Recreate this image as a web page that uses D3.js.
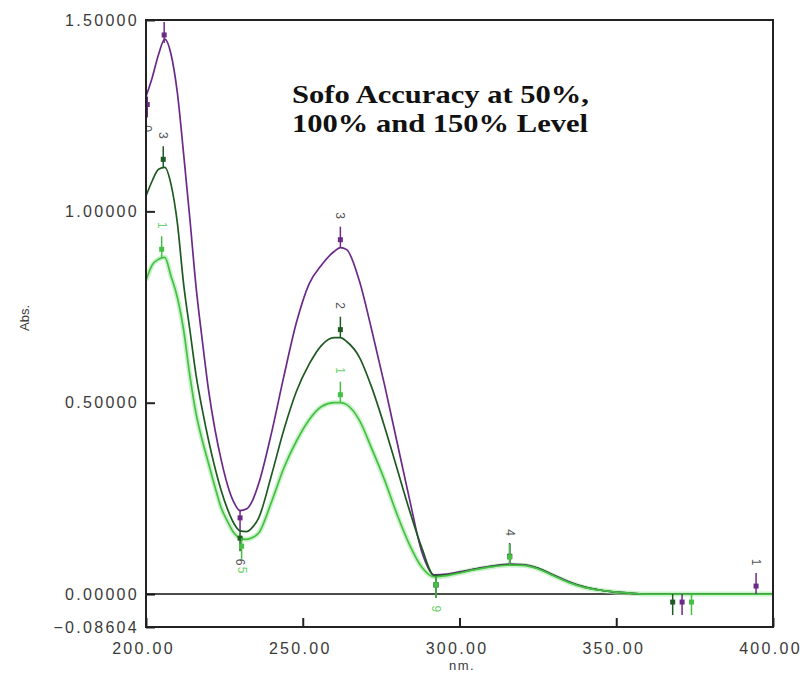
<!DOCTYPE html>
<html>
<head>
<meta charset="utf-8">
<script src="https://cdn.jsdelivr.net/npm/d3@7"></script>
<style>
  body { margin: 0; background: #fff; }
  .tick text { font-family: "Liberation Sans", Arial, sans-serif; font-size: 16px; fill: #3a3a3a; letter-spacing: 2.3px; }
  .tick line { stroke: #222; stroke-width: 2; }
</style>
</head>
<body>
<div id="chart"></div>
<script>
// wavelength grid (nm) shared by the three scans
var wavelengths = [200, 202, 204, 206, 208, 210, 212, 214, 216, 218, 220, 222, 224, 226, 228, 230,
    232, 234, 236, 240, 244, 248, 252, 256, 260, 262, 264, 268, 272, 276, 280, 284, 288, 292,
    296, 300, 305, 310, 316, 320, 325, 330, 335, 340, 345, 350, 355, 360, 370, 380, 390, 400];

// absorbance
var abs150 = [1.30, 1.35, 1.41, 1.45, 1.41, 1.31, 1.15, 0.98, 0.80, 0.66, 0.53, 0.43, 0.35, 0.285, 0.24, 0.218,
    0.222, 0.245, 0.29, 0.42, 0.57, 0.71, 0.81, 0.86, 0.895, 0.905, 0.90, 0.82, 0.69, 0.55, 0.40, 0.25, 0.11, 0.05,
    0.052, 0.058, 0.066, 0.073, 0.078, 0.077, 0.068, 0.05, 0.032, 0.018, 0.01, 0.005, 0.002, 0.0, 0.0, 0.0, 0.0, 0.0];
var abs100 = [1.04, 1.08, 1.11, 1.115, 1.07, 0.97, 0.81, 0.69, 0.57, 0.48, 0.40, 0.33, 0.27, 0.222, 0.185, 0.165,
    0.163, 0.175, 0.20, 0.31, 0.43, 0.53, 0.60, 0.65, 0.67, 0.67, 0.66, 0.62, 0.54, 0.44, 0.33, 0.22, 0.12, 0.048,
    0.05, 0.056, 0.065, 0.072, 0.077, 0.076, 0.067, 0.049, 0.031, 0.018, 0.01, 0.005, 0.002, 0.0, 0.0, 0.0, 0.0, 0.0];
var abs50 = [0.82, 0.86, 0.875, 0.88, 0.83, 0.775, 0.69, 0.57, 0.47, 0.40, 0.34, 0.28, 0.225, 0.19, 0.16, 0.146,
    0.143, 0.148, 0.16, 0.24, 0.33, 0.40, 0.455, 0.49, 0.50, 0.50, 0.495, 0.455, 0.38, 0.30, 0.21, 0.13, 0.07, 0.045,
    0.048, 0.055, 0.064, 0.071, 0.076, 0.075, 0.066, 0.048, 0.03, 0.017, 0.01, 0.005, 0.002, 0.0, 0.0, 0.0, 0.0, 0.0];

var seriesNames = ["150%", "100%", "50%"];
var seriesColors = ["#6b2a88", "#1f5a22", "#45c045"];

// peak / valley picks: series index, nm, absorbance, label, direction (1 peak, -1 valley)
var pickSeries = [0, 0, 0, 0, 0, 0, 0, 0, 1, 1, 1, 1, 1, 1, 2, 2, 2, 2, 2, 2];
var pickNm = [200.4, 205.8, 230, 262, 292.5, 316, 371, 394.6, 205.5, 230, 262, 292.5, 316, 368, 205, 230.5, 262, 292.5, 316, 374];
var pickAbs = [1.30, 1.44, 0.22, 0.905, 0.045, 0.078, 0, 0, 1.115, 0.167, 0.67, 0.045, 0.077, 0, 0.88, 0.146, 0.50, 0.045, 0.076, 0];
var pickLabel = ["0", "", "", "3", "", "", "", "1", "3", "6", "2", "", "4", "", "1", "5", "1", "9", "", ""];
var pickDir = [-1, 1, -1, 1, -1, 1, -1, 1, 1, -1, 1, -1, 1, -1, 1, -1, 1, -1, 1, -1];

var xTicks = [200, 250, 300, 350, 400];
var yTicks = [-0.08604, 0, 0.5, 1.0, 1.5];

var svgWidth = 803;
var svgHeight = 674;
var plot = { left: 146, right: 773, top: 20, bottom: 627 };

var svg = d3.select("#chart")
    .append("svg")
    .attr("width", svgWidth)
    .attr("height", svgHeight)
    .style("display", "block");

var x = d3.scaleLinear().domain([200, 400]).range([plot.left, plot.right]);
var y = d3.scaleLinear().domain([-0.08604, 1.5]).range([plot.bottom, plot.top]);

svg.append("clipPath")
    .attr("id", "plotclip")
    .append("rect")
    .attr("x", plot.left)
    .attr("y", plot.top)
    .attr("width", plot.right - plot.left)
    .attr("height", plot.bottom - plot.top);

// axes with inward ticks
var xAxis = svg.append("g")
    .attr("transform", `translate(0, ${plot.bottom})`)
    .call(d3.axisBottom(x).tickValues(xTicks).tickSize(-9).tickPadding(16).tickFormat(d3.format(".2f")));
xAxis.select(".domain").remove();
xAxis.selectAll("text").attr("dx", -3);

var yAxis = svg.append("g")
    .attr("transform", `translate(${plot.left}, 0)`)
    .call(d3.axisLeft(y).tickValues(yTicks).tickSize(-9).tickPadding(9).tickFormat(d3.format(".5f")));
yAxis.select(".domain").remove();
yAxis.selectAll("text").attr("dx", 2);

// zero line
svg.append("line")
    .attr("x1", plot.left).attr("x2", plot.right)
    .attr("y1", y(0)).attr("y2", y(0))
    .attr("stroke", "#111")
    .attr("stroke-width", 1.6);

// spectra
var series = [abs150, abs100, abs50];
var line = d3.line()
    .x((d, i) => x(wavelengths[i]))
    .y(d => y(d))
    .curve(d3.curveMonotoneX);

var curves = svg.append("g").attr("clip-path", "url(#plotclip)");

curves.append("path")
    .attr("d", line(abs50))
    .attr("fill", "none")
    .attr("stroke", "#a8eaa8")
    .attr("stroke-width", 5)
    .attr("opacity", 0.6);

series.forEach(function(vals, k) {
    curves.append("path")
        .attr("d", line(vals))
        .attr("fill", "none")
        .attr("stroke", seriesColors[k])
        .attr("stroke-width", 1.7);
});

// pick markers
var picks = pickNm.map((nm, i) => ({ nm: nm, a: pickAbs[i], s: pickSeries[i], label: pickLabel[i], dir: pickDir[i] }));

var pickGroup = curves.selectAll(".pick")
    .data(picks)
    .enter()
    .append("g")
    .attr("class", "pick")
    .attr("transform", d => `translate(${x(d.nm)}, ${y(d.a)})`);

pickGroup.append("line")
    .attr("x1", 0).attr("x2", 0)
    .attr("y1", 0)
    .attr("y2", d => -d.dir * 21)
    .attr("stroke", d => seriesColors[d.s])
    .attr("stroke-width", 1.5);

pickGroup.append("rect")
    .attr("x", -2.5)
    .attr("y", d => -d.dir * 8 - 2.5)
    .attr("width", 5)
    .attr("height", 5)
    .attr("fill", d => seriesColors[d.s]);

pickGroup.append("text")
    .attr("transform", d => `translate(0, ${-d.dir * 32}) rotate(90)`)
    .attr("text-anchor", "middle")
    .attr("dominant-baseline", "central")
    .style("font-family", "Liberation Sans, Arial, sans-serif")
    .style("font-size", "12px")
    .attr("fill", d => d.s === 2 ? "#6ccf6c" : "#555")
    .text(d => d.label);

// frame
svg.append("rect")
    .attr("x", plot.left)
    .attr("y", plot.top)
    .attr("width", plot.right - plot.left)
    .attr("height", plot.bottom - plot.top)
    .attr("fill", "none")
    .attr("stroke", "#222")
    .attr("stroke-width", 2);

// axis titles
svg.append("text")
    .attr("x", 462)
    .attr("y", 670)
    .attr("text-anchor", "middle")
    .style("font-family", "Liberation Sans, Arial, sans-serif")
    .style("font-size", "13px")
    .style("letter-spacing", "1.5px")
    .attr("fill", "#3a3a3a")
    .text("nm.");

svg.append("text")
    .attr("transform", "translate(29, 318) rotate(-90)")
    .attr("text-anchor", "middle")
    .style("font-family", "Liberation Sans, Arial, sans-serif")
    .style("font-size", "13px")
    .attr("fill", "#3a3a3a")
    .text("Abs.");

// chart title
var title = svg.append("text")
    .style("font-family", "'Liberation Serif', 'Times New Roman', serif")
    .style("font-weight", "bold")
    .style("font-size", "26px")
    .attr("fill", "#111");
title.append("tspan").attr("x", 292).attr("y", 103)
    .attr("textLength", 297).attr("lengthAdjust", "spacingAndGlyphs")
    .text("Sofo Accuracy at 50%,");
title.append("tspan").attr("x", 292).attr("y", 132)
    .attr("textLength", 296).attr("lengthAdjust", "spacingAndGlyphs")
    .text("100% and 150% Level");
</script>
</body>
</html>
